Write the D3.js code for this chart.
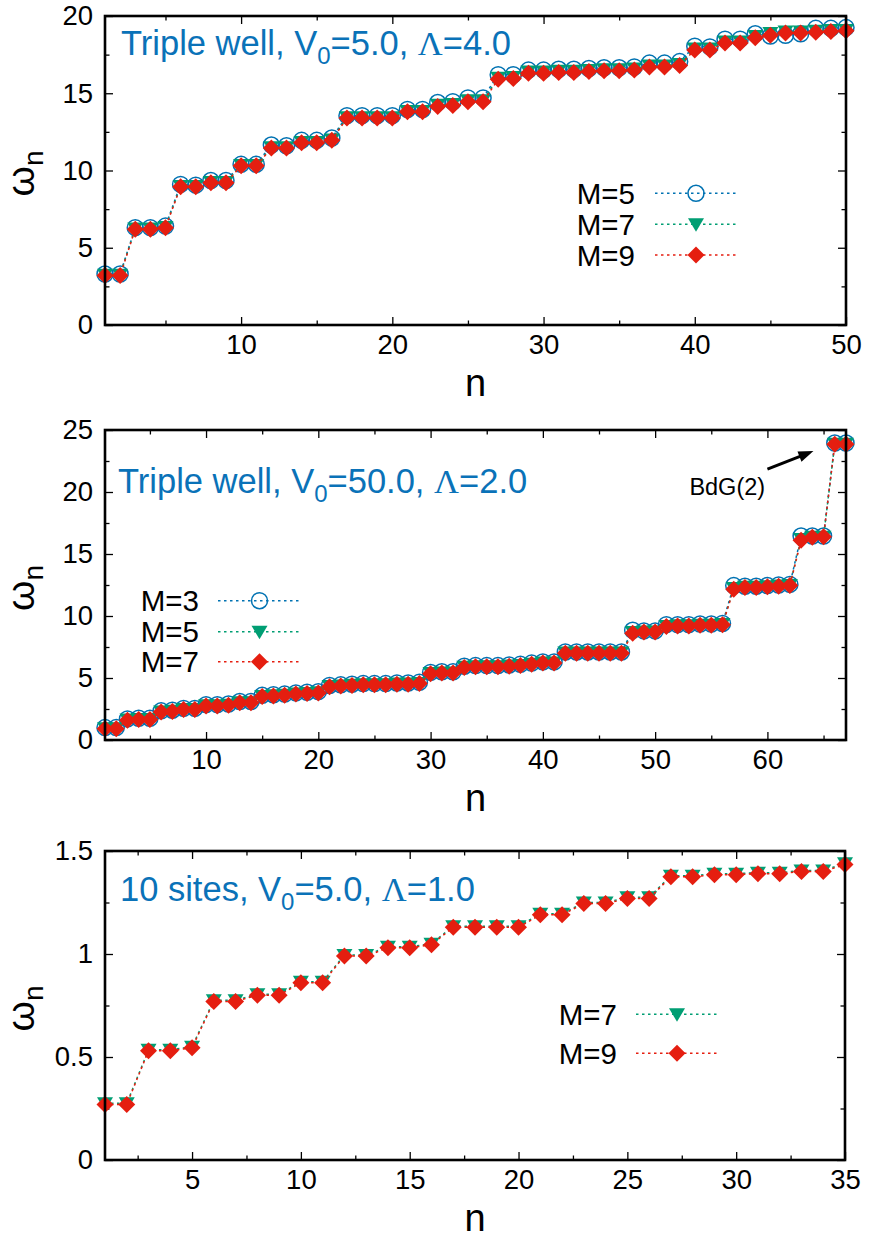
<!DOCTYPE html>
<html><head><meta charset="utf-8">
<script src="https://cdn.jsdelivr.net/npm/d3@7"></script>
<style>body{margin:0;background:#fff} svg{display:block}</style>
</head><body>
<svg id="c" width="869" height="1239"></svg>
<script>
// ---------------- DATA ----------------
// Panel 1: Triple well, V0=5.0, Lambda=4.0  (n = 1..50)
const p1_M5 = [3.3,3.3,6.3,6.3,6.4,9.1,9.05,9.35,9.35,10.4,10.4,11.65,11.6,11.95,11.95,12.1,13.55,13.55,13.55,13.55,13.95,13.95,14.4,14.45,14.7,14.7,16.2,16.2,16.5,16.5,16.55,16.55,16.6,16.65,16.65,16.7,16.95,16.95,17.05,18.05,18.0,18.5,18.5,18.85,18.7,18.75,18.85,19.2,19.2,19.25];
const p1_M7 = [3.25,3.25,6.25,6.25,6.35,9.0,9.0,9.25,9.25,10.35,10.35,11.5,11.5,11.85,11.85,12.0,13.45,13.45,13.45,13.45,13.85,13.85,14.25,14.3,14.55,14.55,16.0,16.05,16.4,16.4,16.45,16.45,16.5,16.55,16.55,16.6,16.8,16.8,16.9,17.9,17.9,18.35,18.35,18.7,18.9,19.0,19.0,19.05,19.1,19.1];
const p1_M9 = [3.2,3.2,6.2,6.2,6.3,8.95,8.95,9.2,9.2,10.3,10.3,11.45,11.45,11.8,11.8,11.95,13.4,13.4,13.4,13.4,13.8,13.8,14.15,14.2,14.45,14.45,15.9,15.95,16.3,16.3,16.35,16.35,16.4,16.45,16.45,16.5,16.7,16.7,16.8,17.8,17.8,18.25,18.25,18.6,18.75,18.9,18.9,18.95,19.0,19.05];
const p1_labels = ["M=5","M=7","M=9"];
const p1_xTicks = [10,20,30,40,50];
const p1_yTicks = [0,5,10,15,20];

// Panel 2: Triple well, V0=50.0, Lambda=2.0  (n = 1..67)
const p2_M3 = [1.0,1.0,1.7,1.75,1.75,2.35,2.4,2.55,2.55,2.85,2.85,2.9,3.1,3.1,3.6,3.65,3.7,3.8,3.85,3.9,4.4,4.45,4.5,4.55,4.55,4.55,4.6,4.6,4.65,5.45,5.5,5.5,5.95,6.0,6.0,6.0,6.05,6.1,6.2,6.3,6.3,7.1,7.1,7.1,7.1,7.1,7.1,8.85,8.8,8.8,9.3,9.3,9.3,9.35,9.35,9.4,12.45,12.4,12.4,12.45,12.5,12.55,16.45,16.45,16.45,23.95,23.95];
const p2_M5 = [0.95,0.95,1.65,1.7,1.7,2.3,2.35,2.5,2.5,2.8,2.8,2.85,3.05,3.05,3.55,3.6,3.65,3.75,3.8,3.85,4.35,4.4,4.45,4.5,4.5,4.5,4.55,4.55,4.6,5.4,5.45,5.45,5.9,5.95,5.95,5.95,6.0,6.05,6.15,6.25,6.25,7.05,7.05,7.05,7.05,7.05,7.05,8.7,8.75,8.75,9.2,9.25,9.25,9.3,9.3,9.35,12.25,12.35,12.35,12.4,12.45,12.5,16.2,16.4,16.4,23.9,23.9];
const p2_M7 = [0.9,0.9,1.6,1.65,1.65,2.25,2.3,2.45,2.45,2.75,2.75,2.8,3.0,3.0,3.5,3.55,3.6,3.7,3.75,3.8,4.3,4.35,4.4,4.45,4.45,4.45,4.5,4.5,4.55,5.35,5.4,5.4,5.85,5.9,5.9,5.9,5.95,6.0,6.1,6.2,6.2,7.0,7.0,7.0,7.0,7.0,7.0,8.6,8.7,8.7,9.15,9.2,9.2,9.25,9.25,9.3,12.15,12.3,12.3,12.35,12.4,12.45,16.1,16.35,16.4,23.85,23.85];
const p2_labels = ["M=3","M=5","M=7"];
const p2_xTicks = [10,20,30,40,50,60];
const p2_yTicks = [0,5,10,15,20,25];

// Panel 3: 10 sites, V0=5.0, Lambda=1.0  (n = 1..35)
const p3_M7 = [0.275,0.275,0.535,0.535,0.55,0.775,0.775,0.805,0.805,0.865,0.865,0.995,0.995,1.035,1.035,1.05,1.135,1.135,1.135,1.135,1.195,1.195,1.25,1.25,1.275,1.275,1.38,1.38,1.39,1.39,1.395,1.395,1.405,1.405,1.44];
const p3_M9 = [0.27,0.27,0.53,0.53,0.545,0.77,0.77,0.80,0.80,0.86,0.86,0.99,0.99,1.03,1.03,1.045,1.13,1.13,1.13,1.13,1.19,1.19,1.245,1.245,1.27,1.27,1.375,1.375,1.385,1.385,1.39,1.39,1.40,1.40,1.435];
const p3_labels = ["M=7","M=9"];
const p3_xTicks = [5,10,15,20,25,30,35];
const p3_yTicks = [0,0.5,1,1.5];

// ---------------- STYLE ----------------
const BLUE = "#0072b2", GREEN = "#009e73", RED = "#e51e10", TITLE = "#0a72b8";
const FONT = "'Liberation Sans', Arial, Helvetica, sans-serif";
const svg = d3.select("#c");

function markerPath(shape) {
  if (shape === "diamond") return "M0,-8.5L8.5,0L0,8.5L-8.5,0Z";
  if (shape === "tri") return "M-8,-6L8,-6L0,7.5Z";
  return null;
}
function drawMarker(sel, shape, color) {
  if (shape === "circle") {
    sel.append("circle").attr("r", 8).attr("fill", "none").attr("stroke", color).attr("stroke-width", 1.5);
  } else {
    sel.append("path").attr("d", markerPath(shape)).attr("fill", color);
  }
}

function panel(p) {
  const g = svg.append("g");
  const x = d3.scaleLinear().domain(p.xDomain).range([p.left, p.right]);
  const y = d3.scaleLinear().domain(p.yDomain).range([p.bottom, p.top]);
  const styleAxis = (a) => {
    a.select(".domain").remove();
    a.selectAll("line").attr("stroke", "#000").attr("stroke-width", 1.3);
    a.selectAll("text").attr("font-family", FONT).attr("font-size", 27.5).attr("fill", "#000");
  };
  // major + minor ticks, all four sides, inward
  styleAxis(g.append("g").attr("transform", `translate(${p.left},0)`)
    .call(d3.axisLeft(y).tickValues(p.yTicks).tickSizeInner(-8).tickSizeOuter(0).tickPadding(12).tickFormat(p.yFmt)));
  styleAxis(g.append("g").attr("transform", `translate(${p.left},0)`)
    .call(d3.axisLeft(y).tickValues(p.yMinor).tickSizeInner(-4.5).tickSizeOuter(0).tickFormat("")));
  styleAxis(g.append("g").attr("transform", `translate(${p.right},0)`)
    .call(d3.axisRight(y).tickValues(p.yTicks).tickSizeInner(-8).tickSizeOuter(0).tickFormat("")));
  styleAxis(g.append("g").attr("transform", `translate(${p.right},0)`)
    .call(d3.axisRight(y).tickValues(p.yMinor).tickSizeInner(-4.5).tickSizeOuter(0).tickFormat("")));
  styleAxis(g.append("g").attr("transform", `translate(0,${p.bottom})`)
    .call(d3.axisBottom(x).tickValues(p.xTicks).tickSizeInner(-8).tickSizeOuter(0).tickPadding(9).tickFormat(d3.format("d"))));
  styleAxis(g.append("g").attr("transform", `translate(0,${p.bottom})`)
    .call(d3.axisBottom(x).tickValues(p.xMinor).tickSizeInner(-4.5).tickSizeOuter(0).tickFormat("")));
  styleAxis(g.append("g").attr("transform", `translate(0,${p.top})`)
    .call(d3.axisTop(x).tickValues(p.xTicks).tickSizeInner(-8).tickSizeOuter(0).tickFormat("")));
  styleAxis(g.append("g").attr("transform", `translate(0,${p.top})`)
    .call(d3.axisTop(x).tickValues(p.xMinor).tickSizeInner(-4.5).tickSizeOuter(0).tickFormat("")));

  // series
  const line = d3.line().x((d, i) => x(i + 1)).y(d => y(d));
  p.series.forEach(s => {
    g.append("path").attr("d", line(s.values)).attr("fill", "none")
      .attr("stroke", s.color).attr("stroke-width", 1.5).attr("stroke-dasharray", "2.5,3.5");
    const m = g.append("g").selectAll("g").data(s.values).join("g")
      .attr("transform", (d, i) => `translate(${x(i + 1)},${y(d)})`);
    drawMarker(m, s.shape, s.color);
  });

  // frame
  g.append("rect").attr("x", p.left).attr("y", p.top).attr("width", p.right - p.left)
    .attr("height", p.bottom - p.top).attr("fill", "none").attr("stroke", "#000").attr("stroke-width", 2.6);

  // title
  const t = g.append("text").attr("x", p.titleX).attr("y", p.titleY)
    .attr("font-family", FONT).attr("font-size", 34.5).attr("fill", TITLE);
  t.append("tspan").text(p.titleA);
  t.append("tspan").attr("dy", 9).attr("font-size", 24).text("0");
  t.append("tspan").attr("dy", -9).text(p.titleB);
  t.append("tspan").attr("font-family", "'Liberation Serif', 'DejaVu Serif', serif").text("Λ");
  t.append("tspan").text(p.titleC);

  // axis labels
  g.append("text").attr("x", (p.left + p.right) / 2).attr("y", p.bottom + 71)
    .attr("text-anchor", "middle").attr("font-family", FONT).attr("font-size", 38).text("n");
  const yl = g.append("text").attr("transform", `translate(34,${(p.top + p.bottom) / 2 + 3}) rotate(-90)`)
    .attr("text-anchor", "middle").attr("font-family", FONT).attr("font-size", 39);
  yl.append("tspan").text("ω");
  yl.append("tspan").attr("dy", 9).attr("font-size", 28).text("n");

  // legend
  p.series.forEach((s, i) => {
    const ry = p.leg.rows[i];
    g.append("text").attr("x", p.leg.textRight).attr("y", ry + 10.6).attr("text-anchor", "end")
      .attr("font-family", FONT).attr("font-size", 29.5).text(s.label);
    g.append("line").attr("x1", p.leg.l1).attr("x2", p.leg.l2).attr("y1", ry).attr("y2", ry)
      .attr("stroke", s.color).attr("stroke-width", 1.5).attr("stroke-dasharray", "2.5,3.5");
    drawMarker(g.append("g").attr("transform", `translate(${(p.leg.l1 + p.leg.l2) / 2},${ry})`), s.shape, s.color);
  });
  return {g, x, y};
}

panel({
  left: 105, right: 846, top: 16, bottom: 325,
  xDomain: [1, 50], yDomain: [0, 20],
  xTicks: p1_xTicks, xMinor: [5,15,25,35,45], yTicks: p1_yTicks, yMinor: [2.5,7.5,12.5,17.5],
  yFmt: d3.format("d"),
  series: [
    {values: p1_M5, shape: "circle", color: BLUE, label: p1_labels[0]},
    {values: p1_M7, shape: "tri", color: GREEN, label: p1_labels[1]},
    {values: p1_M9, shape: "diamond", color: RED, label: p1_labels[2]}],
  titleX: 121, titleY: 55, titleA: "Triple well, V", titleB: "=5.0, ", titleC: "=4.0",
  leg: {textRight: 635, l1: 655, l2: 737, rows: [193.3, 224.3, 255]}
});

const P2 = panel({
  left: 105, right: 846, top: 430, bottom: 740,
  xDomain: [1, 67], yDomain: [0, 25],
  xTicks: p2_xTicks, xMinor: [5,15,25,35,45,55,65], yTicks: p2_yTicks, yMinor: [2.5,7.5,12.5,17.5,22.5],
  yFmt: d3.format("d"),
  series: [
    {values: p2_M3, shape: "circle", color: BLUE, label: p2_labels[0]},
    {values: p2_M5, shape: "tri", color: GREEN, label: p2_labels[1]},
    {values: p2_M7, shape: "diamond", color: RED, label: p2_labels[2]}],
  titleX: 118, titleY: 493, titleA: "Triple well, V", titleB: "=50.0, ", titleC: "=2.0",
  leg: {textRight: 199, l1: 218, l2: 301, rows: [600.7, 631.7, 661.7]}
});

// BdG(2) annotation (data coordinates of panel 2)
const annText = [53.05, 19.75], annFrom = [60.0, 21.85], annTip = [64.1, 23.3];
{
  const {g, x, y} = P2;
  g.append("text").attr("x", x(annText[0])).attr("y", y(annText[1]))
    .attr("font-family", FONT).attr("font-size", 23.5).text("BdG(2)");
  const x0 = x(annFrom[0]), y0 = y(annFrom[1]), x1 = x(annTip[0]), y1 = y(annTip[1]);
  const L = Math.hypot(x1 - x0, y1 - y0), ux = (x1 - x0) / L, uy = (y1 - y0) / L;
  const hl = 15, hw = 5.5, bx = x1 - hl * ux, by = y1 - hl * uy;
  g.append("line").attr("x1", x0).attr("y1", y0).attr("x2", bx + 2 * ux).attr("y2", by + 2 * uy)
    .attr("stroke", "#000").attr("stroke-width", 3);
  g.append("path").attr("d", `M${x1},${y1}L${bx - hw * uy},${by + hw * ux}L${bx + hw * uy},${by - hw * ux}Z`)
    .attr("fill", "#000");
}

panel({
  left: 105, right: 845, top: 851, bottom: 1160,
  xDomain: [1, 35], yDomain: [0, 1.5],
  xTicks: p3_xTicks, xMinor: [2.5,7.5,12.5,17.5,22.5,27.5,32.5], yTicks: p3_yTicks, yMinor: [0.25,0.75,1.25],
  yFmt: d => d3.format("")(d),
  series: [
    {values: p3_M7, shape: "tri", color: GREEN, label: p3_labels[0]},
    {values: p3_M9, shape: "diamond", color: RED, label: p3_labels[1]}],
  titleX: 120, titleY: 901, titleA: "10 sites, V", titleB: "=5.0, ", titleC: "=1.0",
  leg: {textRight: 617, l1: 636, l2: 718, rows: [1014.3, 1053.3]}
});
</script>
</body></html>
